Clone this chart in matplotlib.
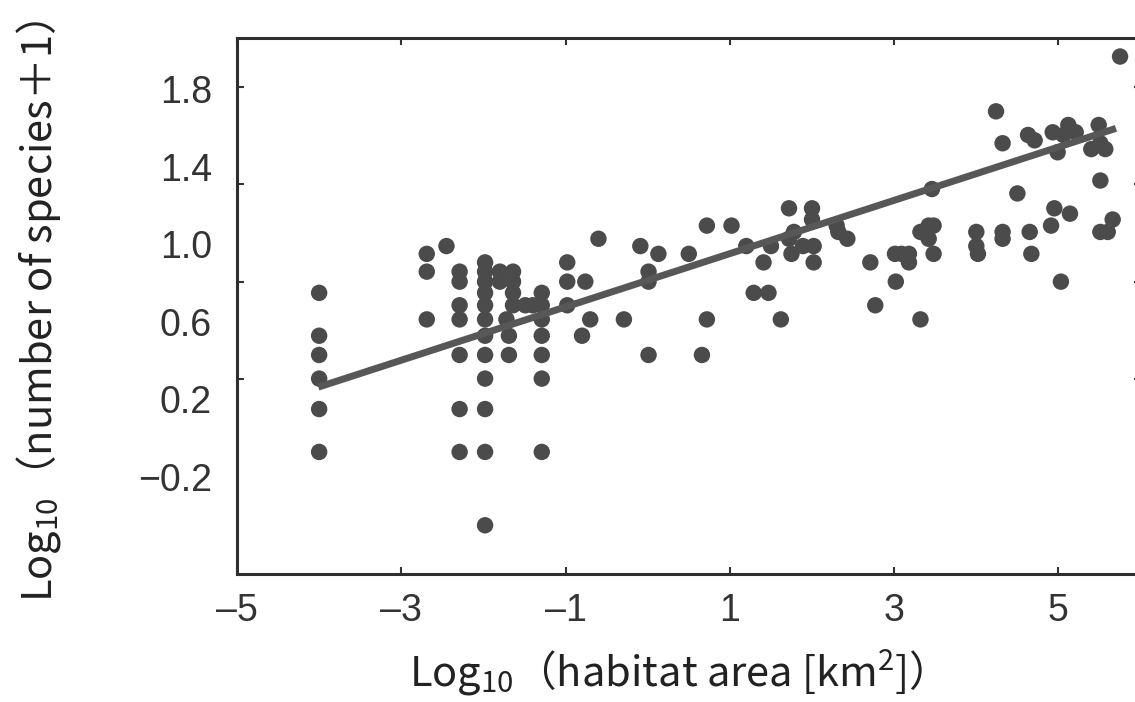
import numpy as np
import matplotlib
matplotlib.use("Agg")
import matplotlib.pyplot as plt

# log10(habitat area) and log10(species + 1)
area_x = [
    -4.0, -4.0, -4.0, -4.0, -4.0, -4.0,
    -2.69, -2.69, -2.69, -2.45,
    -2.29, -2.29, -2.29, -2.29, -2.29, -2.29, -2.29,
    -1.98, -1.98, -1.98, -1.98, -1.98, -1.98, -1.98, -1.98, -1.98, -1.98, -1.98, -1.98,
    -1.80, -1.80, -1.64, -1.64, -1.64, -1.64, -1.72, -1.69, -1.69,
    -1.49, -1.40,
    -1.29, -1.29, -1.29, -1.29, -1.29, -1.29, -1.29,
    -0.98, -0.98, -0.98, -0.76, -0.80, -0.70, -0.60, -0.29,
    -0.09, 0.01, 0.01, 0.01, 0.13, 0.50, 0.66, 0.72, 0.72,
    1.02, 1.20, 1.29, 1.41, 1.47, 1.50, 1.62, 1.72, 1.72, 1.78, 1.75, 1.89,
    2.00, 2.00, 2.02, 2.02, 2.30, 2.32, 2.43, 2.71, 2.77,
    3.02, 3.01, 3.09, 3.18, 3.18, 3.32, 3.32, 3.42, 3.42, 3.46, 3.48, 3.48,
    4.00, 4.00, 4.02, 4.24, 4.32, 4.32, 4.32, 4.50, 4.63, 4.71, 4.65, 4.67,
    4.91, 4.93, 4.95, 4.99, 5.03, 5.06, 5.12, 5.14, 5.21,
    5.40, 5.49, 5.51, 5.51, 5.51, 5.57, 5.60, 5.66, 5.75,
]
species_y = [
    0.954, 0.778, 0.699, 0.602, 0.477, 0.301,
    1.114, 1.041, 0.845, 1.146,
    1.041, 1.0, 0.903, 0.845, 0.699, 0.477, 0.301,
    1.079, 1.041, 1.0, 0.954, 0.903, 0.845, 0.778, 0.699, 0.602, 0.477, 0.301, 0.0,
    1.041, 1.0, 1.041, 1.0, 0.954, 0.903, 0.845, 0.778, 0.699,
    0.903, 0.903,
    0.954, 0.903, 0.845, 0.778, 0.699, 0.602, 0.301,
    1.079, 1.0, 0.903, 1.0, 0.778, 0.845, 1.176, 0.845,
    1.146, 1.041, 1.0, 0.699, 1.114, 1.114, 0.699, 1.230, 0.845,
    1.230, 1.146, 0.954, 1.079, 0.954, 1.146, 0.845, 1.301, 1.176, 1.204, 1.114, 1.146,
    1.301, 1.255, 1.146, 1.079, 1.230, 1.204, 1.176, 1.079, 0.903,
    1.0, 1.114, 1.114, 1.114, 1.079, 0.845, 1.204, 1.230, 1.176, 1.380, 1.230, 1.114,
    1.204, 1.146, 1.114, 1.699, 1.568, 1.204, 1.176, 1.362, 1.602, 1.580, 1.204, 1.114,
    1.230, 1.613, 1.301, 1.531, 1.0, 1.602, 1.643, 1.279, 1.613,
    1.544, 1.643, 1.568, 1.415, 1.204, 1.544, 1.204, 1.255, 1.924,
]

# regression line end points
fit_x = [-4.01, 5.70]
fit_y = [0.567, 1.629]

xticks = [-5, -3, -1, 1, 3, 5]
ytick_marks = [1.8, 1.4, 1.0, 0.6, 0.2]
ytick_labels = ["1.8", "1.4", "1.0", "0.6", "0.2", "\u22120.2"]

plt.rcParams["font.family"] = ["Liberation Sans", "DejaVu Sans"]
plt.rcParams["mathtext.fontset"] = "custom"
plt.rcParams["mathtext.rm"] = "Noto Sans CJK JP"

fig = plt.figure(figsize=(11.35, 7.02), dpi=100)
ax = fig.add_axes([237 / 1135, 128 / 702, 903.6 / 1135, 536 / 702])

dot_col = "#4b4b4b"
ax.scatter(area_x, species_y, s=140, color=dot_col, edgecolors="none", zorder=3)
ax.plot(fit_x, fit_y, color="#575757", lw=5, solid_capstyle="butt", zorder=4)

ax.set_xlim(-5, 6)
ax.set_ylim(-0.2, 2.0)

ax.set_xticks(xticks)
ax.set_xticklabels([str(t).replace("-", "\u2013") for t in xticks])
ax.tick_params(axis="x", direction="in", length=5, width=1.5, top=True,
               labelsize=27, pad=14, colors="#333333")

# labels sit evenly between the 1.8 and 0.2 marks, as in the original
ax.set_yticks(np.linspace(1.79, 0.2, 6))
ax.set_yticklabels(ytick_labels)
ax.tick_params(axis="y", which="major", length=0, labelsize=27, pad=18,
               colors="#333333")
ax.set_yticks(ytick_marks, minor=True)
ax.tick_params(axis="y", which="minor", direction="in", length=5, width=1.5,
               left=True, right=True, color="#333333")

for sp in ax.spines.values():
    sp.set_linewidth(2.2)
    sp.set_color("#2e2e2e")

lab_font = ["Noto Sans CJK JP", "DejaVu Sans"]
ax.set_xlabel(r"Log$\mathregular{_{10}}$（habitat area [km$\mathregular{^{2}}$]）",
              family=lab_font, fontsize=30, color="#222222")
ax.set_ylabel(r"Log$\mathregular{_{10}}$（number of species＋1）",
              family=lab_font, fontsize=30, color="#222222")
ax.xaxis.set_label_coords(0.475, -0.138)
ax.yaxis.set_label_coords(-0.193, 0.49)

fig.savefig("out.png", dpi=100)
